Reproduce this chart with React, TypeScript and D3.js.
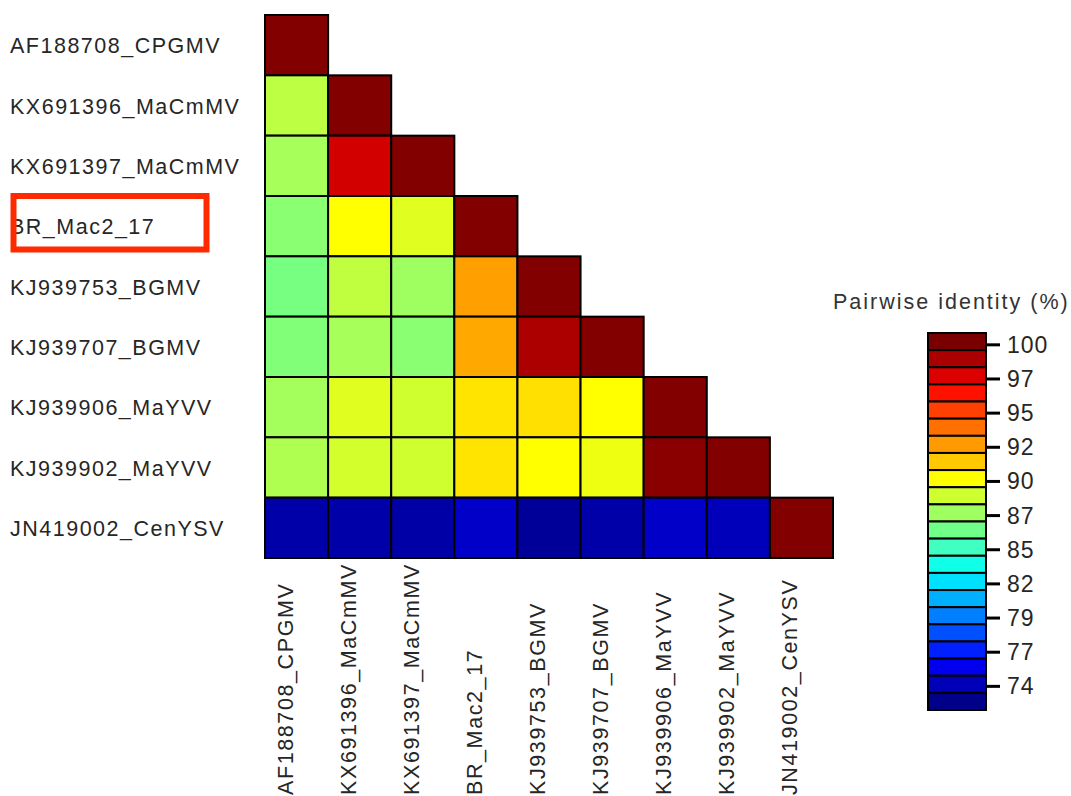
import React from 'react'
import * as d3 from 'd3'

const names = [
  'AF188708_CPGMV',
  'KX691396_MaCmMV',
  'KX691397_MaCmMV',
  'BR_Mac2_17',
  'KJ939753_BGMV',
  'KJ939707_BGMV',
  'KJ939906_MaYVV',
  'KJ939902_MaYVV',
  'JN419002_CenYSV',
]

// lower triangle, pairwise identity (%)
const identity = [
  [100],
  [88.0, 100],
  [87.4, 97.9, 100],
  [86.6, 89.8, 88.95, 100],
  [86.1, 88.07, 87.2, 92.25, 100],
  [86.4, 87.4, 86.6, 92.0, 98.9, 100],
  [87.3, 88.95, 88.5, 90.45, 90.55, 89.8, 100],
  [87.6, 88.6, 88.5, 90.45, 89.8, 89.34, 99.8, 100],
  [73.75, 73.75, 73.7, 74.54, 73.3, 73.75, 74.54, 74.2, 100],
]

const binColors = [
  '#7a0000', '#aa0000', '#dd0000', '#ff1100', '#ff4000', '#ff7000',
  '#ff9a00', '#ffc800', '#ffff00', '#d0ff30', '#a0ff60', '#70ff88',
  '#40ffc0', '#10ffe8', '#00e0ff', '#00b0ff', '#0080ff', '#0050ff',
  '#0020ff', '#0000ee', '#0000b8', '#000088',
]
const legendMax = 100.9
const legendMin = 72.2
const tickValues = [100, 97.4, 94.8, 92.2, 89.6, 87, 84.4, 81.8, 79.2, 76.6, 74]
const tickLabels = ['100', '97', '95', '92', '90', '87', '85', '82', '79', '77', '74']

const font = '"Liberation Sans", Arial, sans-serif'
const textColor = '#262626'

export default function App() {
  const width = 1071
  const height = 796
  const grid = { left: 265, top: 15, right: 833, bottom: 558 }

  const x = d3.scaleBand<number>()
    .domain(d3.range(names.length))
    .range([grid.left, grid.right])
  const y = d3.scaleBand<number>()
    .domain(d3.range(names.length))
    .range([grid.top, grid.bottom])

  const step = (legendMax - legendMin) / binColors.length
  const binCenters = binColors.map((_, k) => legendMax - step * (k + 0.5))
  const color = d3.scaleLinear<string>()
    .domain(binCenters)
    .range(binColors)
    .interpolate(d3.interpolateRgb)
    .clamp(true)

  const legendY = d3.scaleLinear()
    .domain([legendMin, legendMax])
    .range([710, 333])
  const legendX = 928
  const legendW = 58

  const cells = identity.flatMap((row, i) => row.map((v, j) => ({ i, j, v })))

  return (
    <svg width={width} height={height}
      style={{ position: 'absolute', left: 0, top: 0, background: '#fff' }}>
      {/* heatmap cells */}
      <g>
        {cells.map(d => (
          <rect key={`${d.i}-${d.j}`}
            x={x(d.j)} y={y(d.i)}
            width={x.bandwidth()} height={y.bandwidth()}
            fill={color(d.v)} stroke="#000" strokeWidth={2} />
        ))}
      </g>

      {/* row labels */}
      <g fontFamily={font} fontSize={21.5} fill={textColor} letterSpacing={1.5}>
        {names.map((n, i) => (
          <text key={n} x={10} y={(y(i) as number) + y.bandwidth() / 2 + 1}
            dominantBaseline="central">{n}</text>
        ))}
      </g>

      {/* column labels */}
      <g fontFamily={font} fontSize={21.5} fill={textColor} letterSpacing={1.6}>
        {names.map((n, j) => (
          <text key={n}
            transform={`translate(${(x(j) as number) + x.bandwidth() / 2 - 4},795) rotate(-90)`}
            textAnchor="start">{n}</text>
        ))}
      </g>

      {/* highlight box */}
      <rect x={13.5} y={196} width={193} height={53.5}
        fill="none" stroke="#ff2a00" strokeWidth={6} />

      {/* legend */}
      <text x={833} y={302} fontFamily={font} fontSize={21.5} fill="#333"
        letterSpacing={2} dominantBaseline="central">Pairwise identity (%)</text>
      <g>
        {binColors.map((c, k) => {
          const top = legendY(legendMax - step * k)
          const bottom = legendY(legendMax - step * (k + 1))
          return (
            <rect key={c} x={legendX} y={top} width={legendW} height={bottom - top}
              fill={c} stroke="#000" strokeWidth={2} />
          )
        })}
      </g>
      <g fontFamily={font} fontSize={23} fill={textColor} letterSpacing={1}>
        {tickValues.map((t, k) => (
          <g key={t} transform={`translate(0,${legendY(t)})`}>
            <line x1={legendX + legendW} x2={legendX + legendW + 14} stroke="#000" strokeWidth={3} />
            <text x={legendX + legendW + 21} dominantBaseline="central">{tickLabels[k]}</text>
          </g>
        ))}
      </g>
    </svg>
  )
}
